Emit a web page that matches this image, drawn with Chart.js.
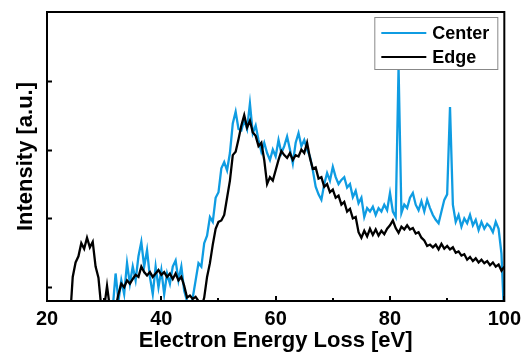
<!DOCTYPE html>
<html>
<head>
<meta charset="utf-8">
<script src="https://cdn.jsdelivr.net/npm/chart.js@4.4.1/dist/chart.umd.min.js"></script>
<style>
  html, body { margin: 0; padding: 0; background: #fff; }
  #wrap { width: 527px; height: 353px; }
</style>
</head>
<body>
<div id="wrap"><canvas id="myChart" width="527" height="353"></canvas></div>
<script>
// Chart - Data (energy loss in eV, intensity in a.u.)
const energy = [
  20, 20.5, 21, 21.5, 22, 22.5, 23, 23.5, 24, 24.5,
  25, 25.5, 26, 26.5, 27, 27.5, 28, 28.5, 29, 29.5,
  30, 30.5, 31, 31.5, 32, 32.5, 33, 33.5, 34, 34.5,
  35, 35.5, 36, 36.5, 37, 37.5, 38, 38.5, 39, 39.5,
  40, 40.5, 41, 41.5, 42, 42.5, 43, 43.5, 44, 44.5,
  45, 45.5, 46, 46.5, 47, 47.5, 48, 48.5, 49, 49.5,
  50, 50.5, 51, 51.5, 52, 52.5, 53, 53.5, 54, 54.5,
  55, 55.5, 56, 56.5, 57, 57.5, 58, 58.5, 59, 59.5,
  60, 60.5, 61, 61.5, 62, 62.5, 63, 63.5, 64, 64.5,
  65, 65.5, 66, 66.5, 67, 67.5, 68, 68.5, 69, 69.5,
  70, 70.5, 71, 71.5, 72, 72.5, 73, 73.5, 74, 74.5,
  75, 75.5, 76, 76.5, 77, 77.5, 78, 78.5, 79, 79.5,
  80, 80.5, 81, 81.5, 82, 82.5, 83, 83.5, 84, 84.5,
  85, 85.5, 86, 86.5, 87, 87.5, 88, 88.5, 89, 89.5,
  90, 90.5, 91, 91.5, 92, 92.5, 93, 93.5, 94, 94.5,
  95, 95.5, 96, 96.5, 97, 97.5, 98, 98.5, 99, 99.5,
  100
];

const center = [
  -0.5, -0.5, -0.5, -0.5, -0.5, -0.5, -0.5, -0.5, -0.5, -0.5,
  -0.5, -0.5, -0.5, -0.5, -0.5, -0.5, -0.5, -0.5, -0.5, -0.5,
  -0.5, -0.5, -0.5, -0.3, 0.2, -0.2, 0.1, -0.1, 0.35, 0.05,
  0.3, 0.1, 0.45, 0.66, 0.3, 0.54, 0.15, -0.1, 0.3, 0.0,
  0.25, -0.1, 0.2, 0.05, 0.3, 0.39, 0.1, 0.3, -0.05, -0.2,
  -0.3, -0.15, 0.1, 0.35, 0.3, 0.64, 0.75, 1.02, 0.95, 1.3,
  1.38, 1.73, 1.82, 1.7, 1.95, 2.38, 2.55, 2.3, 2.28, 2.43,
  2.3, 2.67, 2.24, 2.35, 2.14, 1.97, 2.1, 1.95, 1.85, 2.0,
  1.9, 2.14, 1.95, 2.05, 2.19, 2.0, 1.8, 2.1, 2.24, 2.05,
  2.14, 2.0, 1.9, 1.7, 1.46, 1.35, 1.27, 1.5, 1.66, 1.55,
  1.75, 1.6, 1.5, 1.56, 1.6, 1.45, 1.5, 1.31, 1.4, 1.22,
  1.3, 1.02, 1.15, 1.1, 1.17, 1.05, 1.15, 1.1, 1.2, 1.12,
  1.37, 1.1, 1.02, 3.2, 1.08, 1.2, 1.15, 1.3, 1.37, 1.2,
  1.12, 1.25, 1.1, 1.27, 1.15, 1.05, 0.98, 0.93, 1.1, 1.27,
  1.35, 2.62, 1.2, 0.95, 1.05, 0.88, 1.0, 0.93, 1.05, 0.9,
  0.98, 0.83, 0.95, 0.85, 0.92, 0.88, 0.8, 0.95, 0.85, 0.49,
  -0.5
];

const edge = [
  -0.5, -0.5, -0.5, -0.5, -0.5, -0.5, -0.5, -0.5, -0.5, 0.15,
  0.36, 0.45, 0.64, 0.56, 0.72, 0.58, 0.66, 0.3, 0.14, -0.3,
  -0.3, 0.02, -0.3, -0.3, -0.3, -0.1, 0.05, 0.0, 0.1, 0.05,
  0.12, 0.18, 0.15, 0.3, 0.22, 0.17, 0.22, 0.15, 0.2, 0.25,
  0.18, 0.22, 0.15, 0.2, 0.12, 0.2, 0.1, 0.15, 0.02, -0.15,
  -0.12, -0.17, -0.14, -0.2, -0.3, -0.15, 0.15, 0.35, 0.62, 0.85,
  0.95, 0.97, 1.05, 1.3, 1.55, 1.92, 1.97, 2.15, 2.35, 2.5,
  2.32, 2.42, 2.25, 2.2, 2.05, 2.1, 1.85, 1.5, 1.6, 1.55,
  1.7, 1.85, 1.98, 1.92, 1.88, 1.95, 1.85, 1.92, 1.9, 2.0,
  1.95, 2.1, 1.88, 1.72, 1.74, 1.58, 1.6, 1.46, 1.5, 1.38,
  1.42, 1.3, 1.33, 1.2, 1.24, 1.1, 1.14, 1.0, 1.02, 0.8,
  0.72, 0.82, 0.74, 0.85, 0.76, 0.84, 0.75, 0.82, 0.77, 0.85,
  0.9, 0.97, 0.86, 0.79, 0.88, 0.84, 0.9, 0.84, 0.86, 0.78,
  0.8, 0.72, 0.68, 0.6, 0.62, 0.58, 0.62, 0.55, 0.63, 0.56,
  0.6, 0.55, 0.58, 0.5, 0.52, 0.46, 0.48, 0.4, 0.44, 0.38,
  0.42, 0.36, 0.4, 0.35, 0.38, 0.32, 0.36, 0.3, 0.33, 0.24,
  0.3
];

const seriesNames = ["Center", "Edge"];
const seriesColors = ["#0f9ce2", "#000000"];
const yTicks = [0, 1, 2, 3];
const xMinorTicks = [30, 50, 70, 90];
const xMajorTicks = [20, 40, 60, 80, 100];

const FONT = "'Liberation Sans', Arial, sans-serif";

function toPoints(ys) {
  return energy.map((e, i) => ({ x: e, y: ys[i] }));
}

// frame, inward ticks and boxed legend
const framePlugin = {
  id: 'frame',
  afterDatasetsDraw(chart) {
    const ctx = chart.ctx;
    const a = chart.chartArea;
    const xs = chart.scales.x;
    const ys = chart.scales.y;
    ctx.save();
    ctx.strokeStyle = '#000';
    ctx.lineWidth = 2;
    ctx.beginPath();
    yTicks.forEach(v => {
      const py = Math.round(ys.getPixelForValue(v)) + 0.5;
      ctx.moveTo(a.left, py);
      ctx.lineTo(a.left + 5, py);
    });
    xMajorTicks.forEach(v => {
      const px = Math.round(xs.getPixelForValue(v));
      ctx.moveTo(px, a.bottom);
      ctx.lineTo(px, a.bottom - 5);
    });
    xMinorTicks.forEach(v => {
      const px = Math.round(xs.getPixelForValue(v));
      ctx.moveTo(px, a.bottom);
      ctx.lineTo(px, a.bottom - 3);
    });
    ctx.stroke();
    ctx.strokeRect(a.left, a.top, a.right - a.left, a.bottom - a.top);

    // legend
    const bw = 123, bh = 52;
    const bx = a.right - 7 - bw;
    const by = a.top + 5;
    ctx.fillStyle = '#fff';
    ctx.fillRect(bx, by, bw, bh);
    ctx.strokeStyle = '#888';
    ctx.lineWidth = 1;
    ctx.strokeRect(bx + 0.5, by + 0.5, bw, bh);
    chart.data.datasets.forEach((ds, i) => {
      const ly = by + 16 + i * 24;
      ctx.strokeStyle = ds.borderColor;
      ctx.lineWidth = 2;
      ctx.beginPath();
      ctx.moveTo(bx + 7, ly);
      ctx.lineTo(bx + 52, ly);
      ctx.stroke();
      ctx.fillStyle = '#000';
      ctx.font = 'bold 18px ' + FONT;
      ctx.textBaseline = 'middle';
      ctx.textAlign = 'left';
      ctx.fillText(ds.label, bx + 58, ly + 1);
    });
    ctx.restore();
  }
};

new Chart("myChart", {
  type: "line",
  data: {
    datasets: [
      {
        label: seriesNames[0],
        data: toPoints(center),
        borderColor: seriesColors[0],
        backgroundColor: seriesColors[0],
        borderWidth: 2.3,
        pointRadius: 0,
        tension: 0,
        order: 1
      },
      {
        label: seriesNames[1],
        data: toPoints(edge),
        borderColor: seriesColors[1],
        backgroundColor: seriesColors[1],
        borderWidth: 2.3,
        pointRadius: 0,
        tension: 0,
        order: 0
      }
    ]
  },
  options: {
    responsive: false,
    animation: false,
    layout: { padding: { top: 12, right: 20, bottom: 0, left: 0 } },
    plugins: {
      legend: { display: false },
      tooltip: { enabled: false }
    },
    scales: {
      x: {
        type: 'linear',
        min: 20,
        max: 100,
        grid: { display: false, drawTicks: false },
        border: { display: false },
        ticks: {
          stepSize: 20,
          padding: 6,
          color: '#000',
          font: { family: FONT, size: 20, weight: 'bold' }
        },
        title: {
          display: true,
          text: 'Electron Energy Loss [eV]',
          color: '#000',
          font: { family: FONT, size: 22, weight: 'bold', lineHeight: 1.1 },
          padding: { top: 0, bottom: 0 }
        },
        afterFit(scale) { scale.height = 52; }
      },
      y: {
        min: -0.2,
        max: 4,
        grid: { display: false, drawTicks: false },
        border: { display: false },
        ticks: { display: false },
        title: {
          display: true,
          text: 'Intensity [a.u.]',
          color: '#000',
          font: { family: FONT, size: 22, weight: 'bold', lineHeight: 1.2 },
          padding: { top: 13, bottom: 0 }
        },
        afterFit(scale) { scale.width = 47; }
      }
    }
  },
  plugins: [framePlugin]
});
</script>
</body>
</html>
